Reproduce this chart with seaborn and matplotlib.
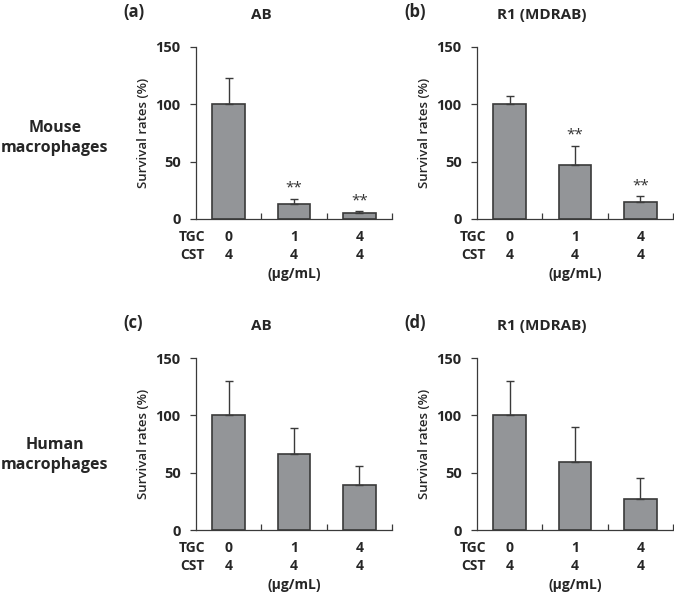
import numpy as np
import pandas as pd
import matplotlib
matplotlib.use("Agg")
import matplotlib.pyplot as plt
import matplotlib.transforms as mtransforms
import seaborn as sns

# data
groups = ["g1", "g2", "g3"]
tgc = ["0", "1", "4"]
cst = ["4", "4", "4"]

mouse_ab = [100, 13, 5]
mouse_ab_err = [23, 4.7, 2]
mouse_r1 = [100, 47, 15]
mouse_r1_err = [7, 17, 5]
human_ab = [100, 66, 39]
human_ab_err = [30, 23, 16.5]
human_r1 = [100, 59, 27]
human_r1_err = [30, 31, 18]

mouse_ab_sig = ["", "**", "**"]
mouse_r1_sig = ["", "**", "**"]
no_sig = ["", "", ""]

sns.set_style("ticks")
plt.rcParams['font.family'] = ['Open Sans', 'DejaVu Sans']

fig = plt.figure(figsize=(6.74, 5.92), dpi=100)

W, H = 674, 592
AX_W, AX_H = 196, 172


def make_axes(left_px, zero_px):
    # left edge of y axis and pixel row of y=0
    return fig.add_axes([left_px / W, (H - zero_px) / H, AX_W / W, AX_H / H])


def panel(ax, vals, errs, sig, title, letter):
    df = pd.DataFrame({"group": groups, "val": vals})
    sns.barplot(data=df, x="group", y="val", color="#939598", saturation=1,
                edgecolor="#3a3a3a", linewidth=1.2, width=0.5, errorbar=None, ax=ax)
    x = np.arange(len(vals))
    ax.errorbar(x, vals, yerr=[np.zeros(len(vals)), errs], fmt="none",
                ecolor="#3a3a3a", elinewidth=1.0, capsize=3, capthick=1.0)
    for xi, v, e, s in zip(x, vals, errs, sig):
        if s:
            ax.annotate(s, (xi, v + e), xytext=(0, 2), textcoords="offset points",
                        ha="center", va="bottom", fontsize=11, color="#333333")
    ax.set_xlim(-0.5, 2.5)
    ax.set_ylim(0, 150)
    ax.set_yticks([0, 50, 100, 150])
    ax.set_yticklabels(["0", "50", "100", "150"], fontsize=10.5, fontweight="bold")
    ax.set_xticks([])
    ax.set_xticks([0.5, 1.5, 2.5], minor=True)
    ax.tick_params(axis="x", which="minor", direction="in", length=4, width=0.9, color="#3a3a3a")
    ax.tick_params(axis="y", direction="out", length=4, width=0.9, color="#3a3a3a", pad=7)
    ax.set_xlabel("")
    ax.set_ylabel("Survival rates (%)", fontsize=9.5, labelpad=4, fontweight="semibold")
    sns.despine(ax=ax)
    for sp in ["left", "bottom"]:
        ax.spines[sp].set_linewidth(0.9)
        ax.spines[sp].set_color("#3a3a3a")
    ax.text(65 / AX_W, 1 + 32 / AX_H, title, transform=ax.transAxes, ha="center",
            va="center", fontsize=11, fontweight="bold")
    ax.text(-73 / AX_W, 1 + 35 / AX_H, letter, transform=ax.transAxes, ha="left",
            va="center", fontsize=12, fontweight="bold")

    # TGC / CST rows below the axis
    trans = mtransforms.blended_transform_factory(ax.transData, ax.transAxes)
    row_y = [-18 / AX_H, -36 / AX_H]
    for ry, name, labels in zip(row_y, ["TGC", "CST"], [tgc, cst]):
        ax.text(-4 / AX_W, ry, name, transform=ax.transAxes, ha="center", va="center",
                fontsize=10, fontweight="bold")
        for xi, lab in zip(x, labels):
            ax.text(xi, ry, lab, transform=trans, ha="center", va="center",
                    fontsize=10, fontweight="bold")
    ax.text(1, -55 / AX_H, "(μg/mL)", transform=trans, ha="center", va="center",
            fontsize=10, fontweight="bold")


ax_a = make_axes(196, 219)
panel(ax_a, mouse_ab, mouse_ab_err, mouse_ab_sig, "AB", "(a)")
ax_b = make_axes(477, 219)
panel(ax_b, mouse_r1, mouse_r1_err, mouse_r1_sig, "R1 (MDRAB)", "(b)")
ax_c = make_axes(196, 530)
panel(ax_c, human_ab, human_ab_err, no_sig, "AB", "(c)")
ax_d = make_axes(477, 530)
panel(ax_d, human_r1, human_r1_err, no_sig, "R1 (MDRAB)", "(d)")

fig.text(55 / W, 1 - 138 / H, "Mouse\nmacrophages", ha="center", va="center",
         fontsize=11.5, fontweight="bold", linespacing=1.3)
fig.text(55 / W, 1 - 455 / H, "Human\nmacrophages", ha="center", va="center",
         fontsize=11.5, fontweight="bold", linespacing=1.3)

fig.savefig("out.png", dpi=100)
